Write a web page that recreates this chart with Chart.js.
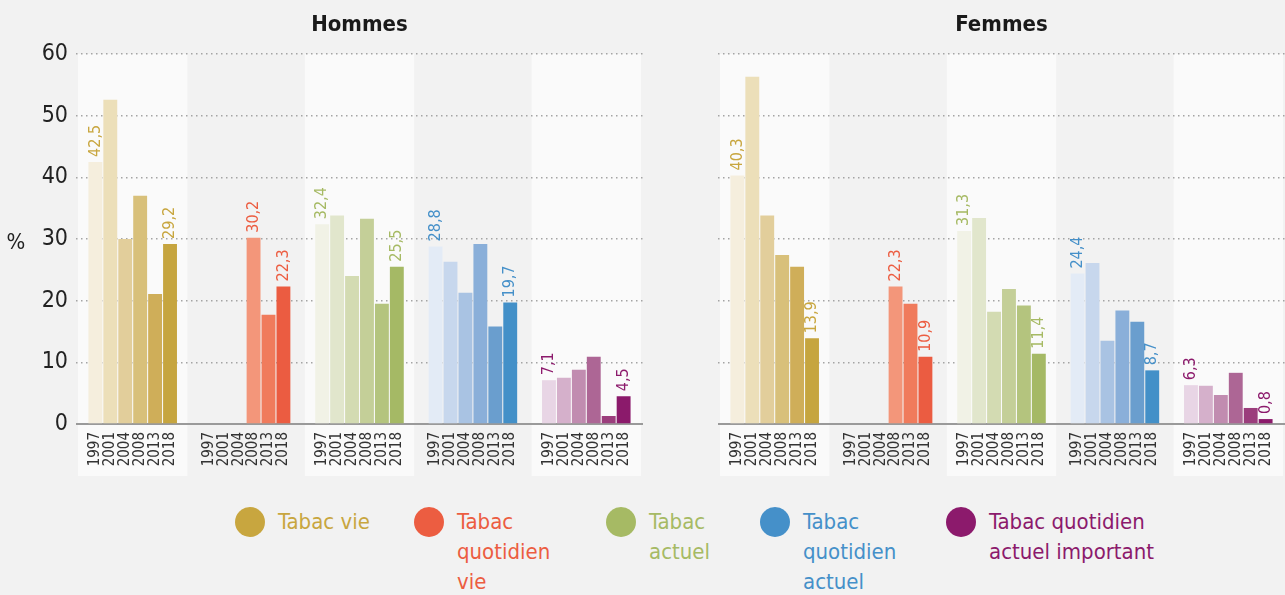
<!DOCTYPE html>
<html>
<head>
<meta charset="utf-8">
<script src="https://cdn.jsdelivr.net/npm/chart.js@4/dist/chart.umd.min.js"></script>
<style>
  body { margin: 0; background: #f2f2f2; width: 1285px; height: 595px; overflow: hidden; position: relative; }
  #boxH { position: absolute; left: 0; top: 0; width: 650px; height: 480px; }
  #boxF { position: absolute; left: 650px; top: 0; width: 635px; height: 480px; }
  .leg { position: absolute; top: 507px; }
  .leg .pt { position: absolute; left: 0; top: 0; width: 30px; height: 30px; border-radius: 50%; }
  .leg .txt { position: absolute; left: 43px; top: 0; white-space: nowrap; font-size: 22px; line-height: 30px; }
</style>
</head>
<body>
<div id="boxH"><canvas id="hommes"></canvas></div>
<div id="boxF"><canvas id="femmes"></canvas></div>
<div id="legende"></div>
<script>
const FONT = '"Liberation Sans Narrow", "DejaVu Sans Condensed", Roboto, sans-serif';
Chart.defaults.font.family = FONT;
document.body.style.fontFamily = FONT;

const annees = ['1997', '2001', '2004', '2008', '2013', '2018'];
const indicateurs = ['Tabac vie', 'Tabac quotidien vie', 'Tabac actuel', 'Tabac quotidien actuel', 'Tabac quotidien actuel important'];
const legendeLignes = [['Tabac vie'], ['Tabac', 'quotidien', 'vie'], ['Tabac', 'actuel'], ['Tabac', 'quotidien', 'actuel'], ['Tabac quotidien', 'actuel important']];
const yMax = 60;
const yPas = 10;

// Hommes
const hVie = [42.5, 52.6, 30.0, 37.0, 21.1, 29.2];
const hQuotVie = [null, null, null, 30.2, 17.7, 22.3];
const hActuel = [32.4, 33.8, 24.0, 33.3, 19.5, 25.5];
const hQuotActuel = [28.8, 26.3, 21.3, 29.2, 15.8, 19.7];
const hImportant = [7.1, 7.5, 8.8, 10.9, 1.3, 4.5];

// Femmes
const fVie = [40.3, 56.3, 33.8, 27.4, 25.5, 13.9];
const fQuotVie = [null, null, null, 22.3, 19.5, 10.9];
const fActuel = [31.3, 33.4, 18.2, 21.9, 19.2, 11.4];
const fQuotActuel = [24.4, 26.1, 13.5, 18.4, 16.6, 8.7];
const fImportant = [6.3, 6.2, 4.7, 8.3, 2.6, 0.8];

const couleurs = ['#c8a63f', '#ec5d41', '#a6ba64', '#4590c9', '#8c1a6c'];
const nuances = [
  ['#f5eedd', '#ecdfb9', '#e2ce9b', '#d8c07a', '#cfae59', '#c6a53f'],
  ['#fbe0d8', '#f8c7b8', '#f5ae98', '#f3967a', '#f07b5c', '#eb5c41'],
  ['#f1f2e6', '#e1e6cc', '#d3dbb2', '#c4cf98', '#b4c47e', '#a5b965'],
  ['#e3ebf6', '#c7d7ed', '#a9c3e3', '#8aafd9', '#6a9ece', '#4390c8'],
  ['#e8d5e5', '#d5b0cb', '#c18cb0', '#ad6695', '#9b3d7c', '#8b1a6b']
];

function virgule(v) {
  return v.toFixed(1).replace('.', ',');
}

// fonds alternés, titre, ligne du zéro
const decorPlugin = {
  id: 'decor',
  beforeDraw(chart, args, opts) {
    const ctx = chart.ctx;
    const x = chart.scales.x;
    const area = chart.chartArea;
    const w = (area.right - area.left) / indicateurs.length;
    ctx.save();
    ctx.fillStyle = '#fafafa';
    for (let i = 0; i < indicateurs.length; i += 2) {
      const cx = x.getPixelForValue(i);
      ctx.fillRect(cx - w / 2 + 2, area.top, w - 4, 476 - area.top);
    }
    ctx.fillStyle = '#1a1a1a';
    ctx.font = 'bold 22px ' + FONT;
    ctx.textAlign = 'center';
    ctx.textBaseline = 'middle';
    ctx.fillText(opts.titre, (area.left + area.right) / 2, 25);
    if (opts.pourcent) {
      ctx.font = '22px ' + FONT;
      ctx.fillStyle = '#222';
      ctx.fillText('%', 16, chart.scales.y.getPixelForValue(30) + 4);
    }
    ctx.restore();
  },
  beforeDatasetsDraw(chart) {
    const ctx = chart.ctx;
    const area = chart.chartArea;
    const y0 = chart.scales.y.getPixelForValue(0);
    ctx.save();
    ctx.strokeStyle = '#9a9a9a';
    ctx.lineWidth = 2;
    ctx.beginPath();
    ctx.moveTo(area.left, y0);
    ctx.lineTo(area.right, y0);
    ctx.stroke();
    ctx.restore();
  },
  afterDatasetsDraw(chart, args, opts) {
    const ctx = chart.ctx;
    const y0 = chart.scales.y.getPixelForValue(0);
    ctx.save();
    // années sous chaque barre
    ctx.fillStyle = '#333';
    ctx.font = '15px ' + FONT;
    ctx.textAlign = 'right';
    ctx.textBaseline = 'middle';
    for (let a = 0; a < annees.length; a++) {
      const meta = chart.getDatasetMeta(a);
      meta.data.forEach(bar => {
        ctx.save();
        ctx.translate(bar.x, y0 + 8);
        ctx.rotate(-Math.PI / 2);
        ctx.fillText(annees[a], 0, 0);
        ctx.restore();
      });
    }
    // valeurs de la première et dernière année
    ctx.font = '16px ' + FONT;
    ctx.textAlign = 'left';
    opts.series.forEach((serie, g) => {
      const premiere = serie.findIndex(v => v !== null);
      [premiere, serie.length - 1].forEach(a => {
        const bar = chart.getDatasetMeta(a).data[g];
        ctx.save();
        ctx.fillStyle = couleurs[g];
        ctx.translate(bar.x, bar.y - 5);
        ctx.rotate(-Math.PI / 2);
        ctx.fillText(virgule(serie[a]), 0, 0);
        ctx.restore();
      });
    });
    ctx.restore();
  }
};

function graphique(id, titre, series, largeurAxe, avecEtiquettes, droite) {
  const datasets = annees.map((an, a) => ({
    label: an,
    data: series.map(s => s[a]),
    backgroundColor: nuances.map(n => n[a]),
    borderWidth: 0,
    categoryPercentage: 0.79,
    barPercentage: 0.93
  }));
  return new Chart(document.getElementById(id), {
    type: 'bar',
    data: { labels: indicateurs, datasets: datasets },
    options: {
      responsive: true,
      maintainAspectRatio: false,
      animation: false,
      layout: { padding: { left: 0, right: droite, top: 54, bottom: 56 } },
      plugins: {
        legend: { display: false },
        tooltip: { enabled: false },
        decor: { titre: titre, pourcent: avecEtiquettes, series: series }
      },
      scales: {
        x: { display: false },
        y: {
          min: 0,
          max: yMax,
          afterFit(scale) { scale.width = largeurAxe; },
          ticks: {
            display: avecEtiquettes,
            stepSize: yPas,
            padding: 8,
            color: '#222',
            font: { size: 23 }
          },
          grid: {
            drawTicks: false,
            lineWidth: 1.5,
            color: c => (c.tick && c.tick.value === 0) ? 'rgba(0,0,0,0)' : '#a4a4a4'
          },
          border: { display: false, dash: [1.5, 3.5] }
        }
      }
    },
    plugins: [decorPlugin]
  });
}

graphique('hommes', 'Hommes', [hVie, hQuotVie, hActuel, hQuotActuel, hImportant], 76, true, 7);
graphique('femmes', 'Femmes', [fVie, fQuotVie, fActuel, fQuotActuel, fImportant], 68, false, 0);

// légende
const posLegende = [235, 414, 606, 760, 946];
const legende = document.getElementById('legende');
indicateurs.forEach((nom, i) => {
  const item = document.createElement('div');
  item.className = 'leg';
  item.style.left = posLegende[i] + 'px';
  item.innerHTML = '<div class="pt" style="background:' + couleurs[i] + '"></div>' +
    '<div class="txt" style="color:' + couleurs[i] + '">' + legendeLignes[i].join('<br>') + '</div>';
  legende.appendChild(item);
});
</script>
</body>
</html>
